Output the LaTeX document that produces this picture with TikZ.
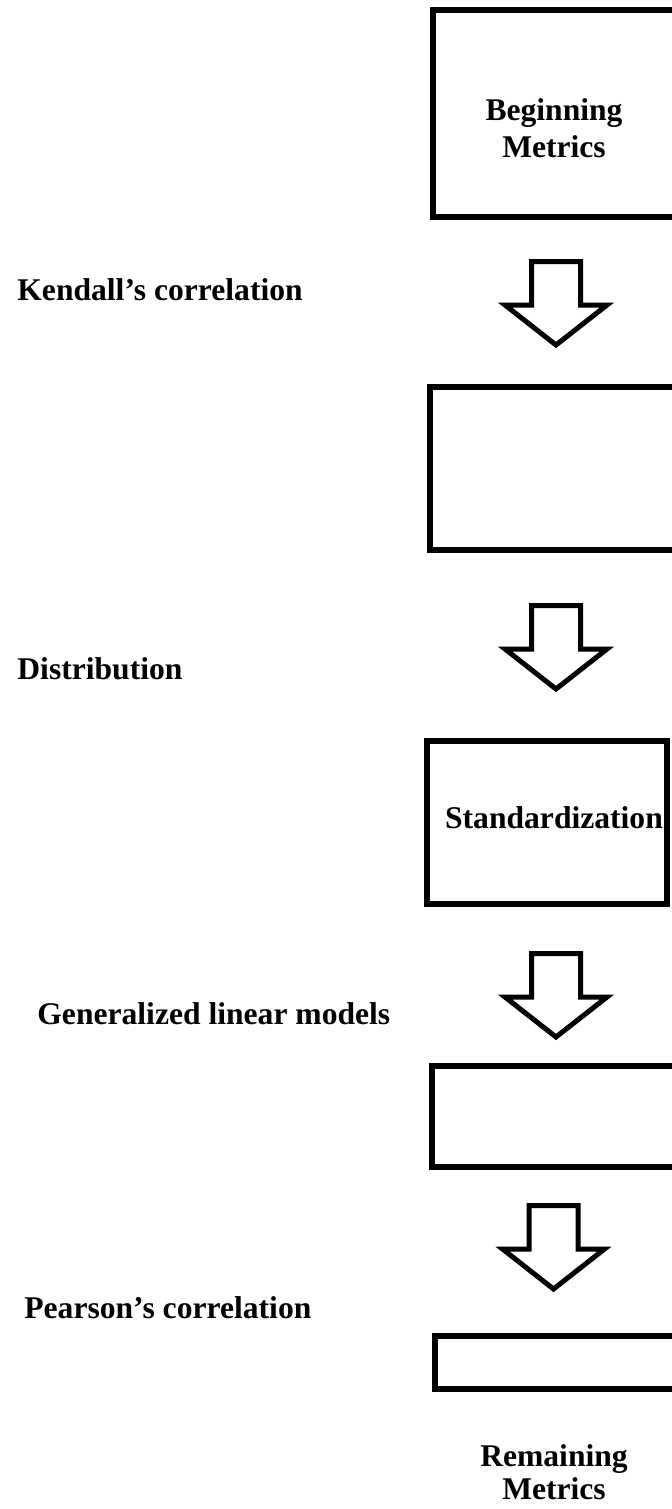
\documentclass[tikz,border=0pt]{standalone}
\usepackage{fontspec}
\setmainfont{Liberation Serif}
\begin{document}
\begin{tikzpicture}[x=0.5pt,y=-0.5pt,
  stage/.style={draw=black,line width=3pt,fill=white},
  lbl/.style={font=\fontsize{15.8}{18.5}\selectfont\bfseries,inner sep=0pt,anchor=base west},
  boxtext/.style={font=\fontsize{15.8}{18.5}\selectfont\bfseries,inner sep=0pt,align=center,anchor=base},
  pics/downarrow/.style={code={
    \draw[line width=2.5pt,line join=miter,fill=white]
      (-24.5,2.5) -- (24.5,2.5) -- (24.5,46) -- (51,46) -- (0,86)
      -- (-51,46) -- (-24.5,46) -- cycle;}}]
\useasboundingbox (0,0) rectangle (671,1509);

% process boxes (the right side runs past the page edge)
\draw[stage] (433,10) rectangle (678,217);
\draw[stage] (430,387) rectangle (678,550);
\draw[stage] (427,741) rectangle (667,904);
\draw[stage] (432,1066) rectangle (678,1167);
\draw[stage] (435,1336) rectangle (678,1389);

% texts inside and below the boxes
\node[boxtext] (begin) at (554,120) {Beginning};
\node[boxtext] (beginb) at (554,157) {Metrics};
\node[boxtext] (std) at (554,828) {Standardization};
\node[boxtext] (remain) at (554,1466) {Remaining};
\node[boxtext] (remainb) at (554,1499) {Metrics};

% block arrows between the stages
\pic (a1) at (556,259) {downarrow};
\pic (a2) at (556,603) {downarrow};
\pic (a3) at (556,951) {downarrow};
\pic (a4) at (553.5,1203) {downarrow};

% method labels
\node[lbl] (kendall) at (17,300) {Kendall’s correlation};
\node[lbl] (dist) at (17,679) {Distribution};
\node[lbl] (glm) at (37,1024) {Generalized linear models};
\node[lbl] (pearson) at (24,1318) {Pearson’s correlation};
\end{tikzpicture}
\end{document}
